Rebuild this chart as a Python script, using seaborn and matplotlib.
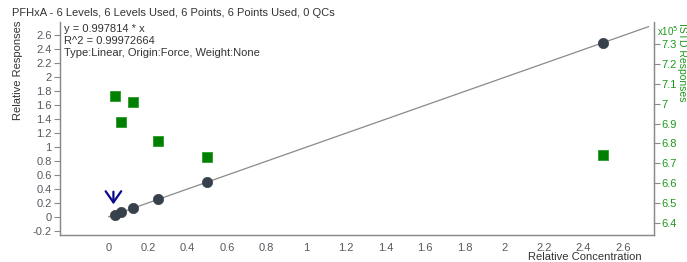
import matplotlib
matplotlib.use("Agg")
import matplotlib.pyplot as plt
import seaborn as sns
import numpy as np
import pandas as pd

# ---- data ----
conc = [0.03125, 0.0625, 0.125, 0.25, 0.5, 2.5]
slope = 0.997814
rel_resp = [0.0312, 0.0624, 0.1247, 0.2495, 0.4989, 2.4945]
istd_resp = [7.04, 6.91, 7.01, 6.81, 6.73, 6.74]  # x10^5
fit_x = [0.0, 2.73]
x_ticks = [-0.2, 0, 0.2, 0.4, 0.6, 0.8, 1, 1.2, 1.4, 1.6, 1.8, 2, 2.2, 2.4, 2.6]
y_ticks = [-0.2, 0, 0.2, 0.4, 0.6, 0.8, 1, 1.2, 1.4, 1.6, 1.8, 2, 2.2, 2.4, 2.6]
y2_ticks = [6.4, 6.5, 6.6, 6.7, 6.8, 6.9, 7, 7.1, 7.2, 7.3]
title = "PFHxA - 6 Levels, 6 Levels Used, 6 Points, 6 Points Used, 0 QCs"
eq_lines = ["y = 0.997814 * x", "R^2 = 0.99972664", "Type:Linear, Origin:Force, Weight:None"]

sns.set_style("white")
plt.rcParams['font.family'] = ['Arial', 'Liberation Sans', 'DejaVu Sans']

fig = plt.figure(figsize=(6.87, 2.62), dpi=100)
ax = fig.add_axes([60/687, 1-235/262, (654-60)/687, (235-22)/262])
ax2 = ax.twinx()

df = pd.DataFrame({"conc": conc, "resp": rel_resp, "istd": istd_resp})
fit_df = pd.DataFrame({"x": fit_x, "y": [slope * v for v in fit_x]})

sns.lineplot(data=fit_df, x="x", y="y", ax=ax, color="#8a8a8a", lw=0.9, zorder=2)
sns.scatterplot(data=df, x="conc", y="resp", ax=ax, color="#37414b", s=55,
                edgecolor="#37414b", linewidth=0.5, zorder=3)
sns.scatterplot(data=df, x="conc", y="istd", ax=ax2, color="#008000", marker="s", s=50,
                edgecolor="#2a9a2a", linewidth=0.6, zorder=3)

ax.set_xlim(-0.245, 2.757)
ax.set_ylim(-0.26, 2.79)
ax2.set_ylim(6.34, 7.41)

gray = "#555a60"
green = "#1a9a1a"
ax.set_xticks(x_ticks)
ax.set_xticklabels(["" if v < 0 else f"{v:g}" for v in x_ticks])
ax.set_yticks(y_ticks)
ax.set_yticklabels([f"{v:g}" for v in y_ticks])
ax2.set_yticks(y2_ticks)
ax2.set_yticklabels([f"{v:g}" for v in y2_ticks])

for a in (ax, ax2):
    for s in a.spines.values():
        s.set_color("#8a8a8a")
        s.set_linewidth(0.9)
    a.spines['top'].set_visible(False)
ax.tick_params(axis='both', direction='out', length=4, width=0.8, color="#8a8a8a",
               labelsize=8, labelcolor=gray, pad=2)
ax2.tick_params(axis='y', direction='out', length=4, width=0.8, color="#8a8a8a",
                labelsize=8, labelcolor=green, pad=1.5)

ax.set_xlabel("")
ax.set_ylabel("")
ax2.set_ylabel("")

# arrow
ax.annotate("", xy=(0.025, 0.14), xytext=(0.025, 0.4),
            arrowprops=dict(arrowstyle="->,head_length=0.5,head_width=0.35",
                            color="#0a0a8a", lw=1.6, mutation_scale=16))

fig.text(12/687, 1-13/262, title, fontsize=8, color="#333333", va="center", ha="left")
for i, t in enumerate(eq_lines):
    fig.text(64/687, 1-(29+12*i)/262, t, fontsize=8, color="#333333", va="center", ha="left")
fig.text(18/687, 1-70/262, "Relative Responses", fontsize=8, color="#333333",
         rotation=90, va="center", ha="center")
fig.text(682/687, 1-62/262, "ISTD Responses", fontsize=7.5, color=green,
         rotation=270, va="center", ha="center")
fig.text(657/687, 1-31/262, "x10$^5$", fontsize=7, color=green, va="center", ha="left")
fig.text(642/687, 1-257/262, "Relative Concentration", fontsize=8, color="#333333",
         va="center", ha="right")

fig.savefig("out.png", dpi=100)
